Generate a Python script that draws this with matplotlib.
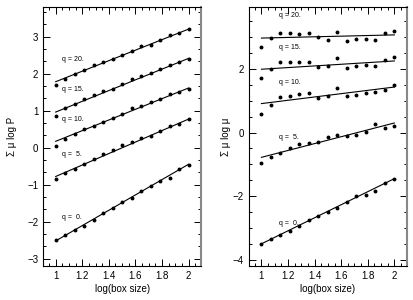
import numpy as np
import matplotlib
matplotlib.use('Agg')
import matplotlib.pyplot as plt
from matplotlib.ticker import MultipleLocator

plt.rcParams['font.family'] = ['Liberation Sans', 'DejaVu Sans']

# box sizes (log), 15 points from 1 to 2
log_box = [1.0, 1.071, 1.143, 1.214, 1.286, 1.357, 1.429, 1.5,
           1.571, 1.643, 1.714, 1.786, 1.857, 1.929, 2.0]
q_labels = ['q =  0.', 'q =  5.', 'q = 10.', 'q = 15.', 'q = 20.']

# left panel: sum mu log P
logP_q0 = [-2.50, -2.35, -2.23, -2.11, -1.95, -1.77, -1.63, -1.48, -1.36, -1.18, -1.03, -0.91, -0.82, -0.59, -0.46]
logP_q5 = [-0.85, -0.68, -0.57, -0.45, -0.31, -0.18, -0.07, 0.06, 0.14, 0.26, 0.32, 0.44, 0.59, 0.65, 0.76]
logP_q10 = [0.05, 0.23, 0.37, 0.49, 0.59, 0.70, 0.81, 0.92, 1.06, 1.12, 1.23, 1.32, 1.45, 1.50, 1.59]
logP_q15 = [0.86, 1.06, 1.19, 1.32, 1.41, 1.54, 1.59, 1.73, 1.84, 1.93, 2.02, 2.11, 2.23, 2.32, 2.38]
logP_q20 = [1.68, 1.86, 2.00, 2.09, 2.22, 2.32, 2.40, 2.51, 2.62, 2.74, 2.78, 2.90, 3.05, 3.10, 3.19]
# fitted line ends (x=1, x=2)
fitP_start = [-2.52, -0.78, 0.17, 0.96, 1.78]
fitP_end = [-0.45, 0.77, 1.61, 2.41, 3.20]
labelP_y = [-1.89, -0.19, 0.76, 1.57, 2.38]

# right panel: sum mu log mu
logmu_q0 = [-3.51, -3.35, -3.23, -3.11, -2.93, -2.75, -2.63, -2.51, -2.37, -2.19, -2.01, -1.95, -1.84, -1.59, -1.45]
logmu_q5 = [-0.97, -0.76, -0.63, -0.50, -0.37, -0.32, -0.29, -0.13, -0.07, -0.11, -0.07, 0.03, 0.28, 0.14, 0.22]
logmu_q10 = [0.59, 0.88, 1.12, 1.14, 1.20, 1.23, 1.07, 1.16, 1.39, 1.14, 1.17, 1.25, 1.28, 1.35, 1.49]
logmu_q15 = [1.70, 1.99, 2.23, 2.22, 2.22, 2.23, 2.06, 2.08, 2.34, 2.03, 2.08, 2.11, 2.10, 2.28, 2.36]
logmu_q20 = [2.68, 2.97, 3.13, 3.12, 3.10, 3.12, 2.99, 2.91, 3.17, 2.87, 2.93, 2.93, 2.91, 3.13, 3.19]
fitmu_start = [-3.50, -0.78, 0.91, 1.99, 2.97]
fitmu_end = [-1.45, 0.30, 1.43, 2.25, 3.07]
labelmu_y = [-2.86, -0.16, 1.56, 2.67, 3.68]

fig = plt.figure(figsize=(4.14, 3.0), dpi=100)
ax1 = fig.add_axes([0.104, 0.113, 0.382, 0.864])
ax2 = fig.add_axes([0.601, 0.113, 0.382, 0.864])

panels = [
    (ax1, [logP_q0, logP_q5, logP_q10, logP_q15, logP_q20], fitP_start, fitP_end, labelP_y, 1.05,
     'Σ μ log P', (-3.2, 3.8), 1, 1 / 3, 7),
    (ax2, [logmu_q0, logmu_q5, logmu_q10, logmu_q15, logmu_q20], fitmu_start, fitmu_end, labelmu_y, 1.135,
     'Σ μ log μ', (-4.2, 3.95), 2, 0.5, 1),
]

for ax, series, fs, fe, ly, lx, ylab, ylim, ymaj, ymin, lpad in panels:
    for i in range(5):
        ax.plot(log_box, series[i], 'o', color='black', markersize=1.8)
        ax.plot([log_box[0], log_box[-1]], [fs[i], fe[i]], '-', color='black', linewidth=0.8)
        ax.text(lx, ly[i], q_labels[i], fontsize=5, va='center', ha='left')
    ax.set_xlim(0.905, 2.095)
    ax.set_ylim(*ylim)
    ax.xaxis.set_major_locator(MultipleLocator(0.2))
    ax.xaxis.set_minor_locator(MultipleLocator(0.05))
    ax.yaxis.set_major_locator(MultipleLocator(ymaj))
    ax.yaxis.set_minor_locator(MultipleLocator(ymin))
    ax.tick_params(which='both', direction='in', top=True, right=True, labelsize=7, width=0.7)
    ax.tick_params(which='major', length=5)
    ax.tick_params(which='minor', length=2.5)
    ax.set_xticks([1, 1.2, 1.4, 1.6, 1.8, 2])
    ax.set_xticklabels(['1', '1.2', '1.4', '1.6', '1.8', '2'])
    ax.set_xlabel('log(box size)', fontsize=7, labelpad=2)
    ax.set_ylabel(ylab, fontsize=7, labelpad=lpad)
    for s in ax.spines.values():
        s.set_linewidth(0.8)
    ax.spines['right'].set_color('#888888')
    ax.spines['right'].set_linewidth(1.5)

fig.savefig('out.png', dpi=100)
